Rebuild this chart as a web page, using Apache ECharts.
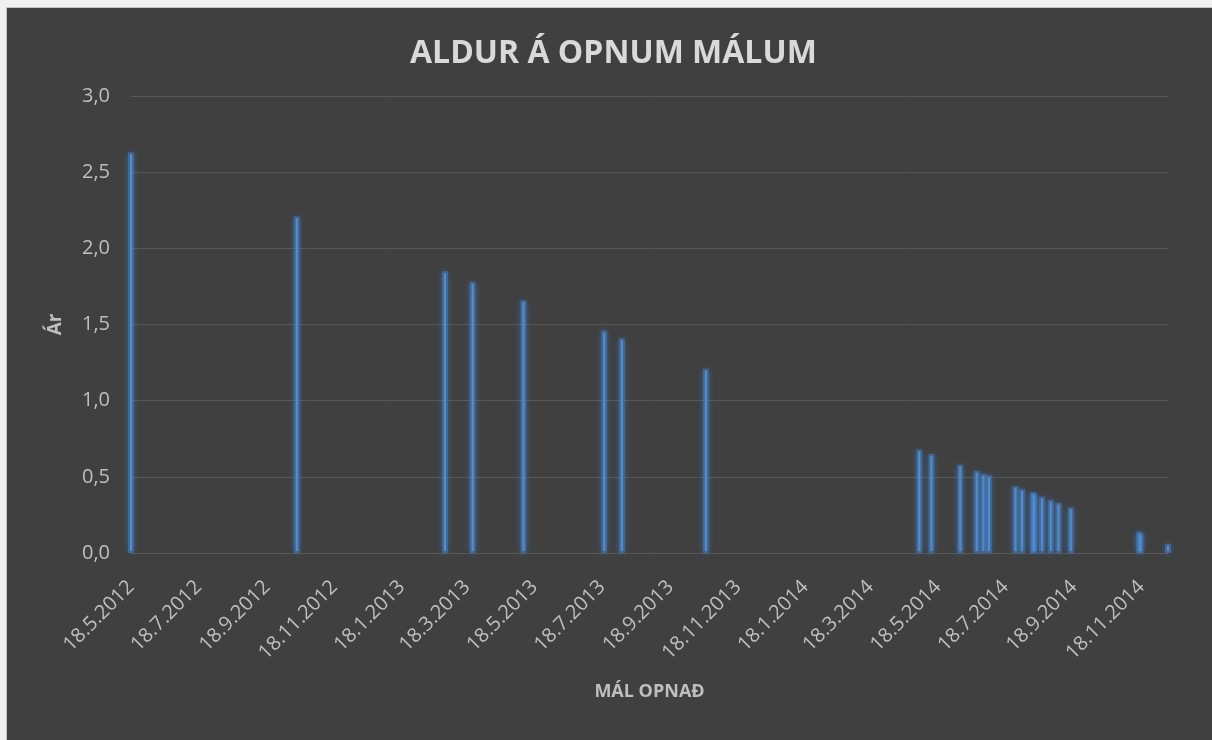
<!DOCTYPE html>
<html>
<head>
<meta charset="utf-8">
<script src="https://cdn.jsdelivr.net/npm/echarts@6/dist/echarts.min.js"></script>
<style>
  html, body { margin: 0; padding: 0; background: #f0f0f0; }
  #frame { position: absolute; left: 6px; top: 7px; width: 1206px; height: 733px;
           background: #404040; border-left: 1px solid #c4c4c4; border-top: 1px solid #c4c4c4; }
  #chart { position: absolute; left: 0; top: 0; width: 1212px; height: 740px; }
</style>
</head>
<body>
<div id="frame"></div>
<div id="chart"></div>
<script>
// ---- data ----
const openDates = [
  '2012-05-18', '2012-10-15', '2013-02-26', '2013-03-23', '2013-05-08',
  '2013-07-20', '2013-08-05', '2013-10-20', '2014-05-01', '2014-05-12',
  '2014-06-07', '2014-06-22', '2014-06-28', '2014-07-03', '2014-07-27',
  '2014-08-02', '2014-08-12', '2014-08-13', '2014-08-20', '2014-08-28',
  '2014-09-04', '2014-09-15', '2014-11-16', '2014-11-17', '2014-12-12'
];
const ageYears = [
  2.63, 2.21, 1.85, 1.78, 1.66,
  1.46, 1.41, 1.21, 0.68, 0.65,
  0.58, 0.54, 0.52, 0.51, 0.44,
  0.42, 0.40, 0.39, 0.37, 0.35,
  0.33, 0.30, 0.14, 0.13, 0.06
];
const xTickDates = [
  '2012-05-18', '2012-07-18', '2012-09-18', '2012-11-18', '2013-01-18',
  '2013-03-18', '2013-05-18', '2013-07-18', '2013-09-18', '2013-11-18',
  '2014-01-18', '2014-03-18', '2014-05-18', '2014-07-18', '2014-09-18',
  '2014-11-18'
];
const xMinDate = '2012-05-18';
const xMaxDate = '2014-12-12';
const titleText = 'ALDUR Á OPNUM MÁLUM';
const xName = 'MÁL OPNAÐ';
const yName = 'Ár';

function ts(s) {
  const p = s.split('-').map(Number);
  return new Date(p[0], p[1] - 1, p[2]).getTime();
}
function fmtDate(v) {
  const d = new Date(v);
  return d.getDate() + '.' + (d.getMonth() + 1) + '.' + d.getFullYear();
}

const seriesData = openDates.map((d, i) => [ts(d), ageYears[i]]);
const tickVals = xTickDates.map(ts);

const chart = echarts.init(document.getElementById('chart'), null, { renderer: 'canvas' });
const font = '"Open Sans", "DejaVu Sans", sans-serif';
chart.setOption({
  backgroundColor: 'transparent',
  animation: false,
  title: {
    text: titleText,
    left: 405,
    top: 33,
    textStyle: { color: '#d9d9d9', fontSize: 32, fontWeight: 'bold', fontFamily: font }
  },
  grid: { left: 131, right: 44, top: 96, bottom: 187, containLabel: false },
  xAxis: {
    type: 'value',
    min: ts(xMinDate),
    max: ts(xMaxDate),
    name: xName,
    nameLocation: 'middle',
    nameGap: 130,
    nameTextStyle: { color: '#bfbfbf', fontSize: 18, fontWeight: 'bold', fontFamily: font },
    axisLine: { show: false },
    axisTick: { show: false },
    splitLine: { show: false },
    axisLabel: {
      customValues: tickVals,
      rotate: 45,
      margin: 31,
      color: '#bfbfbf',
      fontSize: 20,
      fontFamily: font,
      formatter: fmtDate
    }
  },
  yAxis: {
    type: 'value',
    min: 0,
    max: 3,
    interval: 0.5,
    name: yName,
    nameLocation: 'middle',
    nameGap: 66,
    nameTextStyle: { color: '#bfbfbf', fontSize: 19, fontWeight: 'bold', fontFamily: font },
    axisLine: { show: false },
    axisTick: { show: false },
    splitLine: { show: true, lineStyle: { color: '#595959', width: 1 } },
    axisLabel: {
      color: '#bfbfbf',
      fontSize: 20,
      fontFamily: font,
      margin: 21,
      formatter: v => v.toFixed(1).replace('.', ',')
    }
  },
  series: [{
    type: 'bar',
    data: seriesData,
    barWidth: 6,
    clip: false,
    itemStyle: {
      color: '#6ea9e2',
      borderWidth: 4,
      borderColor: 'rgba(70,125,190,0.55)',
      shadowBlur: 6,
      shadowColor: 'rgba(70,130,210,0.6)'
    }
  }]
});
</script>
</body>
</html>
